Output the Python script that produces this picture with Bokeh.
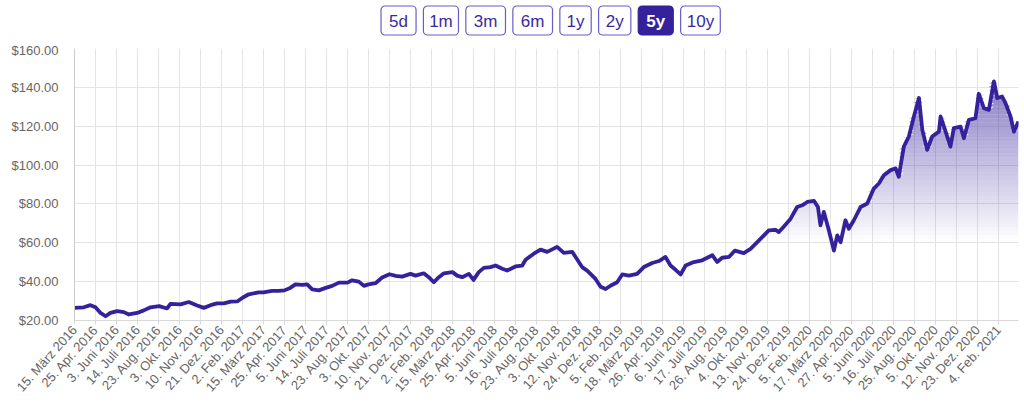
import math
import numpy as np
from bokeh.plotting import figure
from bokeh.models import FixedTicker, NumeralTickFormatter, BoxAnnotation, Range1d, ColumnDataSource
from bokeh.layouts import column
from bokeh.core.properties import value
from bokeh.embed import file_html
from bokeh.resources import INLINE

# ---------------- data ----------------
tick_labels = ["15. März 2016", "25. Apr. 2016", "3. Juni 2016", "14. Juli 2016", "23. Aug. 2016",
               "3. Okt. 2016", "10. Nov. 2016", "21. Dez. 2016", "2. Feb. 2017", "15. März 2017",
               "25. Apr. 2017", "5. Juni 2017", "14. Juli 2017", "23. Aug. 2017", "3. Okt. 2017",
               "10. Nov. 2017", "21. Dez. 2017", "2. Feb. 2018", "15. März 2018", "25. Apr. 2018",
               "5. Juni 2018", "16. Juli 2018", "23. Aug. 2018", "3. Okt. 2018", "12. Nov. 2018",
               "24. Dez. 2018", "5. Feb. 2019", "18. März 2019", "26. Apr. 2019", "6. Juni 2019",
               "17. Juli 2019", "26. Aug. 2019", "4. Okt. 2019", "13. Nov. 2019", "24. Dez. 2019",
               "5. Feb. 2020", "17. März 2020", "27. Apr. 2020", "5. Juni 2020", "16. Juli 2020",
               "25. Aug. 2020", "5. Okt. 2020", "12. Nov. 2020", "23. Dez. 2020", "4. Feb. 2021"]

# position measured in tick intervals (tick k = k-th date label)
pos = [0.00, 0.44, 0.76, 1.00, 1.24, 1.48, 1.71, 2.03, 2.35, 2.59, 2.98, 3.30, 3.62, 4.03, 4.41,
       4.57, 5.05, 5.44, 5.84, 6.16, 6.48, 6.79, 7.11, 7.43, 7.75, 8.00, 8.30, 8.78, 9.00, 9.41,
       9.73, 10.00, 10.29, 10.52, 10.84, 11.08, 11.32, 11.63, 12.00, 12.27, 12.59, 13.00, 13.22,
       13.54, 13.78, 14.00, 14.33, 14.65, 15.00, 15.29, 15.60, 16.00, 16.24, 16.63, 16.87, 17.11,
       17.35, 17.59, 18.00, 18.22, 18.46, 18.78, 19.00, 19.25, 19.49, 19.81, 20.05, 20.37, 20.60,
       21.00, 21.32, 21.48, 21.87, 22.19, 22.51, 22.98, 23.30, 23.70, 23.86, 24.17, 24.41, 24.57,
       24.81, 25.05, 25.29, 25.52, 25.84, 26.08, 26.40, 26.79, 27.11, 27.51, 27.83, 28.14, 28.38,
       28.62, 28.86, 29.10, 29.49, 29.89, 30.37, 30.60, 30.84, 31.16, 31.45, 31.87, 32.19, 32.51,
       32.83, 33.06, 33.38, 33.54, 33.78, 34.10, 34.41, 34.65, 34.89, 35.21, 35.40, 35.52, 35.68,
       35.92, 36.16, 36.32, 36.48, 36.71, 36.87, 37.11, 37.43, 37.75, 38.06, 38.30, 38.54, 38.86,
       39.10, 39.25, 39.49, 39.73, 39.97, 40.21, 40.37, 40.60, 40.84, 41.16, 41.24, 41.48, 41.71,
       41.87, 42.19, 42.35, 42.59, 42.90, 43.06, 43.30, 43.54, 43.78, 43.94, 44.17, 44.33, 44.57,
       44.73, 44.95]

price = [26.5, 26.8, 27.9, 26.8, 23.9, 22.2, 23.9, 24.8, 24.3, 23.1, 23.9, 25.2, 26.8, 27.4, 26.2,
         28.6, 28.3, 29.5, 27.7, 26.5, 27.9, 28.8, 28.8, 29.7, 29.8, 31.7, 33.5, 34.5, 34.5, 35.2,
         35.2, 35.5, 36.9, 38.6, 38.3, 38.6, 36.0, 35.5, 36.9, 37.8, 39.5, 39.5, 40.7,
         40.0, 37.8, 38.6, 39.2, 42.1, 43.8, 43.0, 42.6, 44.0, 43.1, 44.3, 42.3, 39.7,
         42.3, 44.3, 44.9, 43.1, 42.3, 44.0, 40.9, 44.9, 47.1, 47.5, 48.3, 46.6, 45.7,
         47.8, 48.3, 51.3, 54.4, 56.5, 55.3, 57.9, 54.8, 55.3, 52.7, 47.5, 45.7, 44.0,
         41.4, 37.4, 36.2, 37.9, 39.7, 43.7, 43.1, 44.0, 47.5, 49.6, 50.6, 52.7, 48.3,
         46.1, 43.7, 48.3, 50.1, 51.0, 53.6, 50.1, 52.3, 52.7, 56.0, 54.7, 56.9, 60.3,
         63.8, 66.4, 66.7, 65.5, 68.4, 72.4, 78.4, 79.3, 81.0, 81.6, 78.4, 69.0, 75.9,
         66.4, 56.0, 63.8, 60.3, 71.6, 67.2, 71.6, 78.4, 80.2, 87.9, 90.5, 94.8, 97.4,
         98.3, 94.0, 109.5, 114.7, 125.0, 134.5, 118.1, 107.8, 114.7, 117.2, 125.0, 117.2, 109.5,
         119.0, 119.8, 113.8, 123.3, 124.1, 136.7, 129.3, 128.4, 143.1, 134.5, 135.3, 131.9, 125.0,
         117.2, 122.4]

y_ticks = [20, 40, 60, 80, 100, 120, 140, 160]
ranges = ["5d", "1m", "3m", "6m", "1y", "2y", "5y", "10y"]
active_range = "5y"

# ---------------- styles ----------------
MAIN = "#34219b"
FONT = "Liberation Sans"
GRID = "#e4e4e4"
LABEL = "#666666"

# ---------------- header with range buttons ----------------
header = figure(width=1024, height=42, x_range=Range1d(0, 1024), y_range=Range1d(42, 0),
                output_backend="svg", toolbar_location=None, min_border=0)
header.axis.visible = False
header.grid.visible = False
header.outline_line_color = None

btn_widths = [38, 38, 43, 43, 34, 35, 38, 43]
gap = 8
left = 332.5
centers, colors, styles = [], [], []
for name, w in zip(ranges, btn_widths):
    active = name == active_range
    header.add_layout(BoxAnnotation(left=left, right=left + w, top=5.5, bottom=34.5,
                                    fill_color=MAIN if active else "white", fill_alpha=1.0,
                                    line_color=MAIN if active else "#6a5cc6", line_alpha=1.0,
                                    line_width=1.2, border_radius=4, level="underlay"))
    centers.append(left + w / 2)
    colors.append("white" if active else "#3a2a9c")
    styles.append("bold" if active else "normal")
    left += w + gap

hsrc = ColumnDataSource(dict(x=centers, y=[20.5] * len(ranges), text=ranges, color=colors, style=styles))
header.text(x="x", y="y", text="text", source=hsrc, text_color="color", text_font_style="style",
            text_align="center", text_baseline="middle", text_font=value(FONT), text_font_size="17px",
            level="overlay")

# ---------------- main chart ----------------
p = figure(width=1024, height=376, x_range=Range1d(0, 44.95), y_range=Range1d(20, 160),
           output_backend="svg", toolbar_location=None,
           min_border_left=74, min_border_right=6, min_border_top=6, min_border_bottom=98)
p.outline_line_color = None

x = np.array(pos)
y = np.array(price)

# vertical gradient under the line, built from thin bands
step = 2.0
for a in np.arange(60, 146, step):
    y2 = np.clip(y, a, a + step)
    alpha = 0.6 * (a + step / 2 - 60) / 85.0
    p.varea(x=x, y1=a, y2=y2, fill_color=MAIN, fill_alpha=min(alpha, 0.6))

p.line(x, y, line_color=MAIN, line_width=3.8, line_join="round")

xt = list(range(len(tick_labels)))
p.xaxis.ticker = FixedTicker(ticks=xt)
p.xaxis.major_label_overrides = {i: t for i, t in zip(xt, tick_labels)}
p.xaxis.major_label_orientation = 0.84
p.xaxis.major_label_text_font = FONT
p.xaxis.major_label_text_font_size = "13px"
p.xaxis.major_label_text_color = LABEL
p.xaxis.axis_line_color = "#d8d8d8"
p.xaxis.major_tick_line_color = "#d8d8d8"
p.xaxis.major_tick_out = 4
p.xaxis.major_tick_in = 0
p.xaxis.minor_tick_line_color = None
p.xaxis.major_label_standoff = 3

p.yaxis.ticker = FixedTicker(ticks=y_ticks)
p.yaxis.formatter = NumeralTickFormatter(format="$0.00")
p.yaxis.major_label_text_font = FONT
p.yaxis.major_label_text_font_size = "13px"
p.yaxis.major_label_text_color = LABEL
p.yaxis.axis_line_color = "#cccccc"
p.yaxis.major_tick_line_color = None
p.yaxis.minor_tick_line_color = None
p.yaxis.major_label_standoff = 10

p.xgrid.ticker = FixedTicker(ticks=xt)
p.xgrid.grid_line_color = GRID
p.ygrid.grid_line_color = GRID

layout = column(header, p)
open("out.html", "w").write(file_html(layout, INLINE))
